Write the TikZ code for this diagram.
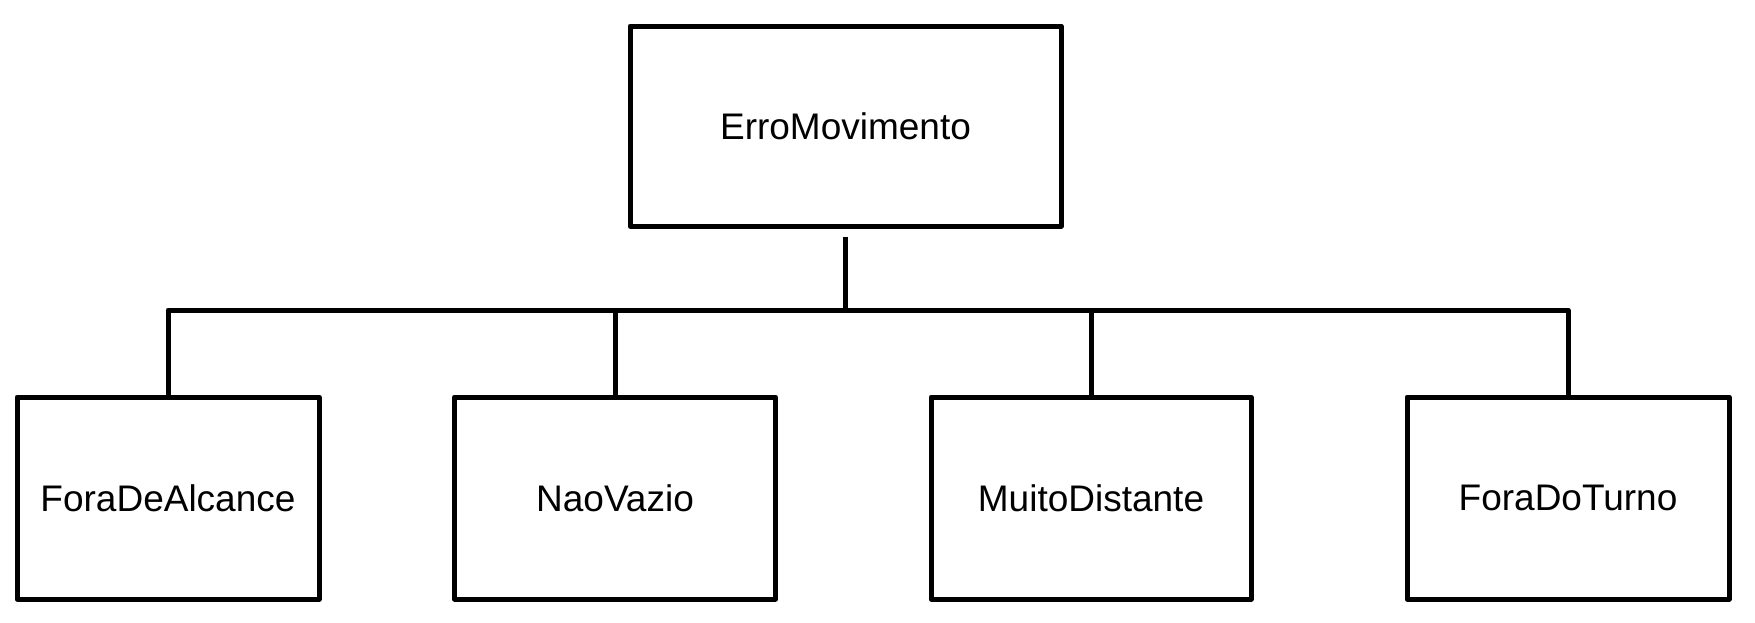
\documentclass[tikz,border=0pt]{standalone}
\usepackage{fontspec}
\setmainfont{Liberation Sans}
\begin{document}
\begin{tikzpicture}[x=1pt,y=-1pt,
  box/.style={draw=black, line width=5pt, line join=round, rectangle, inner sep=0pt,
    font=\fontsize{37}{44}\selectfont},
  conn/.style={draw=black, line width=5pt}]
\useasboundingbox (0,0) rectangle (1755,622);
\node[box, minimum width=431pt, minimum height=200pt] (top) at (845.5,126) {ErroMovimento};
\node[box, minimum width=302pt, minimum height=202pt] (b1) at (168,498) {ForaDeAlcance};
\node[box, minimum width=321pt, minimum height=202pt] (b2) at (615,498) {NaoVazio};
\node[box, minimum width=320pt, minimum height=202pt] (b3) at (1091,498) {MuitoDistante};
\node[box, minimum width=322pt, minimum height=202pt] (b4) at (1568,498) {ForaDoTurno};
\coordinate (j) at (845.5,310);
\draw[conn] ([yshift=-8pt]top.south) -- (j);
\draw[conn, line join=round] (b1.north) -- (b1.north |- j) -- (b4.north |- j) -- (b4.north);
\draw[conn] (b2.north) -- (b2.north |- j);
\draw[conn] (b3.north) -- (b3.north |- j);
\end{tikzpicture}
\end{document}
